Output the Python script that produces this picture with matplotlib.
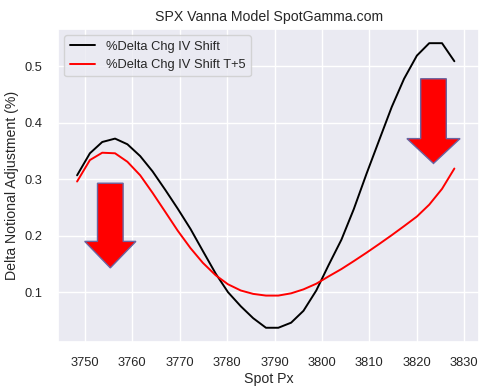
"""
SPX vanna model chart: delta notional adjustment vs spot, with the
T+5 curve overlaid and two red "down" arrows marking where it falls.
"""

import matplotlib
matplotlib.use('Agg')
import matplotlib.pyplot as plt
import seaborn as sns
from matplotlib.patches import FancyArrow

# ── data ────────────────────────────────────────────────────────────────
spot_px = [3748.4, 3751.1, 3753.7, 3756.4, 3759.0, 3761.7, 3764.3, 3767.0,
           3769.6, 3772.3, 3774.9, 3777.6, 3780.2, 3782.9, 3785.5, 3788.2,
           3790.8, 3793.5, 3796.1, 3798.8, 3801.4, 3804.1, 3806.7, 3809.4,
           3812.0, 3814.7, 3817.3, 3820.0, 3822.6, 3825.3, 3827.9]

delta_chg = [0.307, 0.346, 0.366, 0.372, 0.362, 0.341, 0.314, 0.281,
             0.248, 0.212, 0.173, 0.133, 0.100, 0.075, 0.054, 0.037,
             0.037, 0.046, 0.067, 0.103, 0.148, 0.193, 0.247, 0.310,
             0.368, 0.428, 0.478, 0.519, 0.541, 0.541, 0.509]

delta_chg_t5 = [0.296, 0.334, 0.347, 0.346, 0.331, 0.307, 0.276, 0.242,
                0.209, 0.178, 0.152, 0.130, 0.114, 0.103, 0.097, 0.094,
                0.094, 0.098, 0.105, 0.115, 0.128, 0.141, 0.155, 0.170,
                0.185, 0.201, 0.217, 0.234, 0.255, 0.283, 0.319]

# arrows: (x, y_top, length) in data units
arrow_left = (3755.4, 0.293, 0.150)
arrow_right = (3823.5, 0.478, 0.150)

sns.set_theme(style='darkgrid')
plt.rcParams['font.family'] = ['Liberation Sans', 'DejaVu Sans']

fig, ax = plt.subplots(figsize=(4.91, 3.86), dpi=100)
fig.subplots_adjust(left=0.118, right=0.976, top=0.925, bottom=0.114)

ax.plot(spot_px, delta_chg, color='black', linewidth=1.4,
        label='%Delta Chg IV Shift')
ax.plot(spot_px, delta_chg_t5, color='red', linewidth=1.4,
        label='%Delta Chg IV Shift T+5')


def add_down_arrow(ax, x, y_top, length, shaft_w, head_w, head_len):
    arr = FancyArrow(x, y_top, 0, -length, width=shaft_w,
                     head_width=head_w, head_length=head_len,
                     length_includes_head=True, facecolor='red',
                     edgecolor='#6a64a0', linewidth=1.0, zorder=3)
    ax.add_patch(arr)


add_down_arrow(ax, *arrow_left, shaft_w=5.4, head_w=10.8, head_len=0.047)
add_down_arrow(ax, *arrow_right, shaft_w=5.4, head_w=11.2, head_len=0.044)

ax.set_title('SPX Vanna Model SpotGamma.com', fontsize=10.2)
ax.set_xlabel('Spot Px', fontsize=10.2, labelpad=2)
ax.set_ylabel('Delta Notional Adjustment (%)', fontsize=10.2)
ax.set_xticks(range(3750, 3831, 10))
ax.set_yticks([0.1, 0.2, 0.3, 0.4, 0.5])
ax.tick_params(labelsize=9.3, pad=5)
ax.legend(loc='upper left', fontsize=9.3)

fig.savefig('out.png', dpi=100)
